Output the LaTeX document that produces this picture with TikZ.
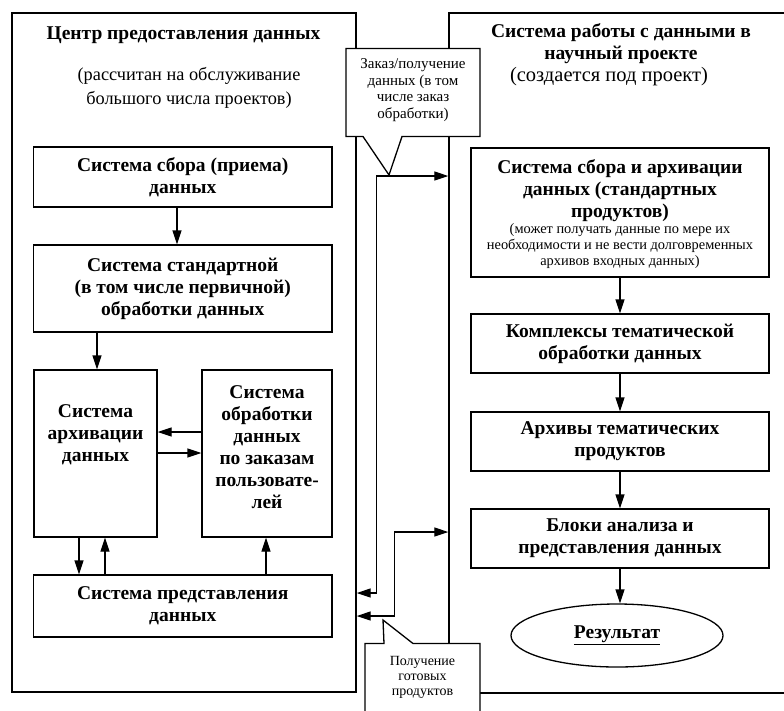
\documentclass[tikz,border=0pt]{standalone}
\usepackage{fontspec}
\setmainfont{Liberation Serif}
\usetikzlibrary{arrows.meta,shapes.geometric}
\newcommand\bxf{\fontsize{19.5}{22}\selectfont\bfseries}
\newcommand\rxf{\fontsize{18.3}{24}\selectfont}
\newcommand\rrxf{\fontsize{20.5}{24}\selectfont}
\newcommand\cxf{\fontsize{15}{16.7}\selectfont}
\newcommand\pxf{\fontsize{14}{15}\selectfont}
\newcommand\sxf{\fontsize{14.4}{16}\selectfont}
\begin{document}
\begin{tikzpicture}[x=1pt,y=-1pt,
  frame/.style={draw, line width=1.4pt, rectangle, inner sep=0pt},
  box/.style={draw, line width=1.3pt, rectangle, inner sep=0pt, align=center, font=\bxf},
  txt/.style={align=center, inner sep=0pt},
  arr/.style={line width=1.3pt, -{Triangle[length=14pt,width=9pt]}},
  arrs/.style={line width=1.3pt, {Triangle[length=14pt,width=9pt]}-{Triangle[length=14pt,width=9pt]}},
  callout/.style={draw, line width=1.3pt, fill=white, line join=miter}]
\clip (0,0) rectangle (784,710);
\fill[white] (0,0) rectangle (784,710);

% frames
\node[frame, minimum width=344, minimum height=679] (lf) at (184,352.5) {};
\node[frame, minimum width=351, minimum height=680] (rf) at (624.5,353) {};

% frame headings
\node[txt, font=\bxf] (lft) at (183.5,35) {Центр предоставления данных};
\node[txt, font=\rxf] (lfs) at (189,88) {(рассчитан на обслуживание\\большого числа проектов)};
\node[txt, font=\bxf] (rft) at (621,44) {Система работы с данными в\\научный проекте};
\node[txt, font=\rrxf] (rfs) at (609,77) {(создается под проект)};

% left boxes
\node[box, minimum width=298.5, minimum height=60] (b1) at (182.75,177) {Система сбора (приема)\\данных};
\node[box, minimum width=298.5, minimum height=87] (b2) at (182.75,288.5) {Система стандартной\\(в том числе первичной)\\обработки данных};
\node[box, minimum width=123, minimum height=167] (sarch) at (95.5,453.5) {};
\node[txt, font=\bxf] (sarcht) at (95.5,435) {Система\\архивации\\данных};
\node[box, minimum width=130, minimum height=167] (sproc) at (267,453.5) {};
\node[txt, font=\bxf] (sproct) at (267,447) {Система\\обработки\\данных\\по заказам\\пользовате-\\лей};
\node[box, minimum width=298.5, minimum height=62] (pres) at (182.75,606) {Система представления\\данных};

% left arrows
\draw[arr] ([xshift=-5.75pt]b1.south) -- ([xshift=-5.75pt]b2.north);
\draw[arr] ([xshift=1.5pt]b2.south -| sarch.north) -- ([xshift=1.5pt]sarch.north);
\draw[arr] ([yshift=21.5pt]sproc.west) -- ([yshift=21.5pt]sarch.east);
\draw[arr] ([yshift=0.5pt]sarch.east) -- ([yshift=0.5pt]sproc.west);
\draw[arr] ([xshift=-16.5pt]sarch.south) -- ([xshift=-16.5pt]sarch.south |- pres.north);
\draw[arr] ([xshift=9.5pt]sarch.south |- pres.north) -- ([xshift=9.5pt]sarch.south);
\draw[arr] ([xshift=-1pt]pres.north -| sproc.south) -- ([xshift=-1pt]sproc.south);

% right boxes
\node[box, minimum width=298, minimum height=129] (ra) at (620,212.5) {};
\node[txt, font=\bxf] (rat) at (620,191) {Система сбора и архивации\\данных (стандартных\\продуктов)};
\node[txt, font=\sxf] (ras) at (620,246.5) {(может получать данные по мере их\\необходимости и не вести долговременных\\архивов входных данных)};
\node[box, minimum width=298, minimum height=59] (rb) at (620,343.5) {Комплексы тематической\\обработки данных};
\node[box, minimum width=298, minimum height=59] (rc) at (620,441.5) {Архивы тематических\\продуктов};
\node[box, minimum width=298, minimum height=59] (rd) at (620,538.5) {Блоки анализа и\\представления данных};
\node[draw, ellipse, line width=1.3pt, minimum width=212, minimum height=63, inner sep=0pt, font=\bxf] (res) at (617,635.5) {\underline{Результат}};

\draw[arr] (ra.south) -- (rb.north);
\draw[arr] (rb.south) -- (rc.north);
\draw[arr] (rc.south) -- (rd.north);
\draw[arr] (rd.south) -- (rd.south |- res.north);

% middle connectors
\draw[arrs] (lf.east |- 0,593) -- ++(20,0) |- (rf.west |- 0,176);
\draw[arrs] (lf.east |- 0,616) -- ++(38,0) |- (rf.west |- 0,532);

% callouts
\draw[callout] (346,48.5) -- (480,48.5) -- (480,136.5) -- (402,136.5) -- (389,175) -- (363,136.5) -- (346,136.5) -- cycle;
\node[txt, font=\cxf] (c1) at (413,90) {Заказ/получение\\данных (в том\\числе заказ\\обработки)};
\draw[callout] (365,720) -- (365,643.5) -- (384,643.5) -- (383,620) -- (413,643.5) -- (480,643.5) -- (480,720);
\node[txt, font=\pxf] (c2) at (422.5,677) {Получение\\готовых\\продуктов};
\end{tikzpicture}
\end{document}
